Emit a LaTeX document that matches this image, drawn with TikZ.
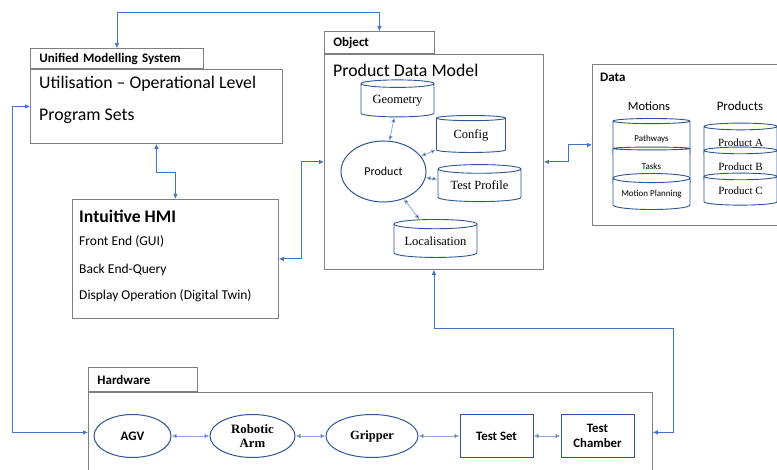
\documentclass[tikz,border=0pt]{standalone}
\usepackage{fontspec}
\setmainfont{Carlito}
\newfontfamily\tmsfont{Liberation Serif}
\usetikzlibrary{shapes.geometric, arrows.meta, positioning, calc}
\definecolor{linkblue}{HTML}{4472C4}
\definecolor{lightlink}{HTML}{8FAADC}
\definecolor{shapeblue}{HTML}{2F5597}
\definecolor{boxgray}{HTML}{7F7F7F}

\begin{document}
\begin{tikzpicture}[x=1pt, y=-1pt, >={Latex[length=5pt,width=4.5pt]},
    panel/.style={draw=boxgray, line width=0.8pt, fill=white, anchor=north west, inner sep=0pt},
    tab/.style={panel, anchor=south west, inner xsep=9pt, align=left, font=\bfseries\fontsize{13}{15}\selectfont},
    bigtxt/.style={anchor=west, inner sep=0pt, font=\fontsize{17.8}{20}\selectfont},
    smalltxt/.style={anchor=west, inner sep=0pt, font=\fontsize{13.5}{16}\selectfont},
    db/.style={cylinder, shape border rotate=90, aspect=0.15, draw=shapeblue, line width=0.9pt, fill=white, inner sep=0pt, font=\tmsfont\fontsize{12.5}{14}\selectfont},
    layer/.style={db, font=\fontsize{9}{11}\selectfont},
    player/.style={db, font=\tmsfont\fontsize{11}{13}\selectfont},
    unit/.style={ellipse, draw=shapeblue, line width=1pt, fill=white, inner sep=0pt, minimum height=43pt, align=center},
    station/.style={rectangle, draw=shapeblue, line width=1pt, fill=white, inner sep=0pt, minimum width=73pt, minimum height=43pt, align=center, font=\bfseries\fontsize{12.8}{15}\selectfont},
    link/.style={<->, draw=linkblue, line width=0.8pt},
    sublink/.style={<->, draw=lightlink, line width=0.8pt}]
    \clip (0,0) rectangle (777,470);

    % Unified Modelling System
    \node[panel, minimum width=252pt, minimum height=74pt] (ums) at (30,69) {};
    \node[tab, text width=155pt, minimum height=20pt] (umstab) at (ums.north west) {Unified Modelling System};
    \node[bigtxt] (util) at (39,84) {Utilisation -- Operational Level};
    \node[bigtxt] (progsets) at (39,116) {Program Sets};

    % Intuitive HMI
    \node[panel, minimum width=206pt, minimum height=119pt] (hmi) at (72,199) {};
    \node[bigtxt, font=\bfseries\fontsize{17.7}{20}\selectfont] (hmititle) at (79,216) {Intuitive HMI};
    \node[smalltxt] (frontend) at (79,242) {Front End (GUI)};
    \node[smalltxt] (backend) at (79,270) {Back End-Query};
    \node[smalltxt] (display) at (79,296) {Display Operation (Digital Twin)};

    % Object
    \node[panel, minimum width=219pt, minimum height=215pt] (obj) at (324,54) {};
    \node[tab, text width=92pt, minimum height=22pt] (objtab) at (obj.north west) {Object};
    \node[bigtxt] (pdm) at (333,70) {Product Data Model};
    \node[db, minimum width=73pt, minimum height=37pt] (geometry) at (397.5,100.5) {Geometry};
    \node[db, minimum width=69pt, minimum height=37pt] (config) at (471,135.5) {Config};
    \node[ellipse, draw=shapeblue, line width=1pt, fill=white, minimum width=85pt, minimum height=61pt, font=\fontsize{12}{14}\selectfont] (product) at (383.5,171.5) {Product};
    \node[db, minimum width=83pt, minimum height=37pt] (testprofile) at (479.5,185.5) {Test Profile};
    \node[db, minimum width=83pt, minimum height=38pt] (localisation) at (435.5,241) {Localisation};

    % Data
    \node[panel, minimum width=200pt, minimum height=161pt] (data) at (592,64) {};
    \node[smalltxt, font=\bfseries\fontsize{13}{15}\selectfont] (datatitle) at (600,77) {Data};
    \node[font=\fontsize{12.5}{14}\selectfont] (motions) at (649,106) {Motions};
    \node[font=\fontsize{13}{15}\selectfont] (products) at (740,106) {Products};
    \node[layer, minimum width=77pt, minimum height=38pt] (pathways) at (651.5,139) {Pathways};
    \node[layer, minimum width=77pt, minimum height=37pt] (tasks) at (651.5,166.5) {Tasks};
    \node[layer, minimum width=77pt, minimum height=36pt] (planning) at (651.5,194) {Motion Planning};
    \node[player, minimum width=73pt, minimum height=35pt] (proda) at (740.5,142.5) {Product A};
    \node[player, minimum width=73pt, minimum height=36pt] (prodb) at (740.5,167) {Product B};
    \node[player, minimum width=73pt, minimum height=32pt] (prodc) at (740.5,191) {Product C};

    % Hardware
    \node[panel, minimum width=564pt, minimum height=80pt] (hw) at (88,392) {};
    \node[tab, text width=91pt, minimum height=24pt] (hwtab) at (hw.north west) {Hardware};
    \node[unit, minimum width=77pt, font=\bfseries\fontsize{13}{15}\selectfont] (agv) at (132.5,436) {AGV};
    \node[unit, minimum width=85pt, font=\tmsfont\bfseries\fontsize{12.8}{14}\selectfont] (robot) [right=38pt of agv] {Robotic\\Arm};
    \node[unit, minimum width=92pt, font=\tmsfont\bfseries\fontsize{12.5}{15}\selectfont] (gripper) [right=30pt of robot] {Gripper};
    \node[station] (testset) [right=41pt of gripper] {Test Set};
    \node[station] (chamber) [right=27pt of testset] {Test\\Chamber};

    % connectors
    \draw[link] (umstab.north) -- ++(0,-36) -| (objtab.north);
    \draw[link] (ums.west) -- ++(-18,0) |- (hw.west);
    \draw[link] (ums.south) -- ++(0,29) -| (hmi.north);
    \draw[link] (hmi.east) -- ++(23,0) |- (obj.west);
    \draw[link] (obj.east) -- ++(25,0) |- (data.west);
    \draw[link] (obj.south) |- ++(239,59) |- (hw.east);

    \path[sublink]
    (product) edge (geometry)
    (product) edge (config)
    (product) edge (testprofile)
    (product) edge (localisation)
    (agv) edge (robot)
    (robot) edge (gripper)
    (gripper) edge (testset)
    (testset) edge (chamber);
\end{tikzpicture}
\end{document}
